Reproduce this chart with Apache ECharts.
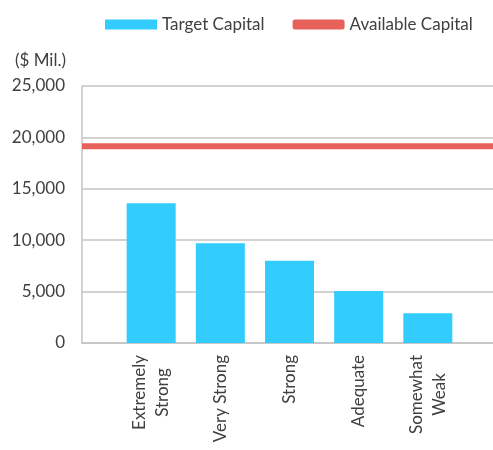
<!DOCTYPE html>
<html><head><meta charset="utf-8">
<script src="https://cdn.jsdelivr.net/npm/echarts@6/dist/echarts.min.js"></script>
<style>html,body{margin:0;padding:0;background:#fff}#c{width:493px;height:450px}</style>
</head><body><div id="c"></div>
<script>
const categories = ['', 'Extremely\nStrong', 'Very Strong', 'Strong', 'Adequate', 'Somewhat\nWeak', ''];
const targetCapital = [null, 13600, 9700, 8000, 5050, 2900, null];
const availableCapital = [19150, 19150, 19150, 19150, 19150, 19150, 19150];
const yTicks = [0, 5000, 10000, 15000, 20000, 25000];

const FONT = 'Lato';
const FS = 17;
const TXT = '#404040';
const chart = echarts.init(document.getElementById('c'), null, {renderer: 'canvas'});
chart.setOption({
  animation: false,
  textStyle: {fontFamily: FONT},
  legend: {
    top: 16, left: 105, padding: 0,
    itemGap: 28, itemWidth: 52, itemHeight: 10,
    textStyle: {fontFamily: FONT, fontSize: FS, color: TXT},
    data: [
      {name: 'Target Capital', icon: 'rect'},
      {name: 'Available Capital', icon: 'roundRect', itemStyle: {color: '#e8605a'}}
    ]
  },
  graphic: [{
    type: 'text', right: 427, top: 52,
    style: {text: '($ Mil.)', font: FS + 'px Lato', fill: TXT, textAlign: 'right'}
  }],
  grid: {left: 82, width: 415, top: 86, bottom: 107, containLabel: false, outerBoundsMode: 'none'},
  xAxis: {
    type: 'category', data: categories, boundaryGap: false,
    axisLine: {lineStyle: {color: '#c4c4c4', width: 1.5}},
    axisTick: {show: false},
    splitLine: {show: false},
    axisLabel: {
      rotate: 90, margin: 12, interval: 0,
      fontFamily: FONT, fontSize: FS, color: TXT, lineHeight: 23,
      formatter: function (v) {
        return v.split('\n').map(s => '{a|' + s + '}').join('\n');
      },
      rich: {a: {align: 'center', fontFamily: FONT, fontSize: FS, color: TXT, lineHeight: 23}}
    }
  },
  yAxis: {
    type: 'value', min: yTicks[0], max: yTicks[yTicks.length - 1], interval: 5000,
    axisLine: {show: true, lineStyle: {color: '#c4c4c4', width: 1.5}},
    axisTick: {show: false},
    splitLine: {lineStyle: {color: '#c4c4c4', width: 1.5}},
    axisLabel: {
      margin: 17, fontFamily: FONT, fontSize: FS, color: TXT,
      formatter: v => v.toLocaleString('en-US')
    }
  },
  series: [
    {
      name: 'Target Capital', type: 'bar', data: targetCapital,
      barWidth: 49, itemStyle: {color: '#33ccff'}
    },
    {
      name: 'Available Capital', type: 'line', data: availableCapital,
      symbol: 'none', lineStyle: {color: '#e8605a', width: 6},
      itemStyle: {color: '#e8605a'}
    }
  ]
});
</script></body></html>
